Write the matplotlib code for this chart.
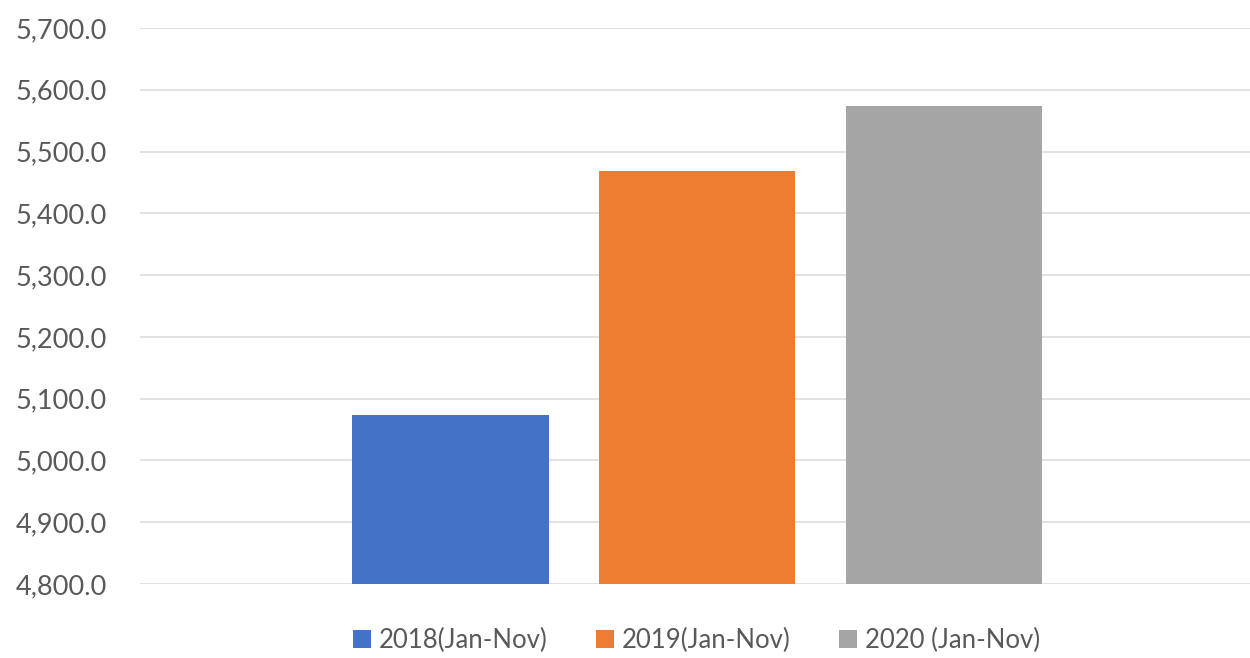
import matplotlib.pyplot as plt
from matplotlib.ticker import FuncFormatter

# series (one category, three periods)
labels = ["2018(Jan-Nov)", "2019(Jan-Nov)", "2020 (Jan-Nov)"]
values = [5073.5, 5469.0, 5574.0]
colors = ["#4472C4", "#ED7D31", "#A5A5A5"]
yticks = [4800, 4900, 5000, 5100, 5200, 5300, 5400, 5500, 5600, 5700]

plt.rcParams['font.family'] = ['Lato', 'DejaVu Sans']

fig = plt.figure(figsize=(12.5, 6.58), dpi=100)
ax = fig.add_axes([0.112, 0.1125, 0.888, 0.845])

x = list(range(len(values)))
for i in x:
    ax.bar(i, values[i], width=0.795, color=colors[i], label=labels[i], zorder=3)

ax.set_ylim(4800, 5700)
ax.set_xlim(-1.258, 3.24)
ax.set_yticks(yticks)
ax.yaxis.set_major_formatter(FuncFormatter(lambda v, p: f"{v:,.1f}"))
ax.set_xticks([])
ax.grid(axis='y', color='#DDDDDD', linewidth=1.2, zorder=0)
for s in ax.spines.values():
    s.set_visible(False)
ax.tick_params(axis='y', length=0, pad=24, labelsize=19.5, labelcolor='#595959')

ax.legend(loc='center', bbox_to_anchor=(0.557, 1 - 640/658), bbox_transform=fig.transFigure,
          ncol=3, frameon=False, fontsize=18.5, labelcolor='#595959',
          handlelength=0.7, handleheight=0.7, handletextpad=0.3, columnspacing=1.9)

plt.savefig('out.png', dpi=100)
